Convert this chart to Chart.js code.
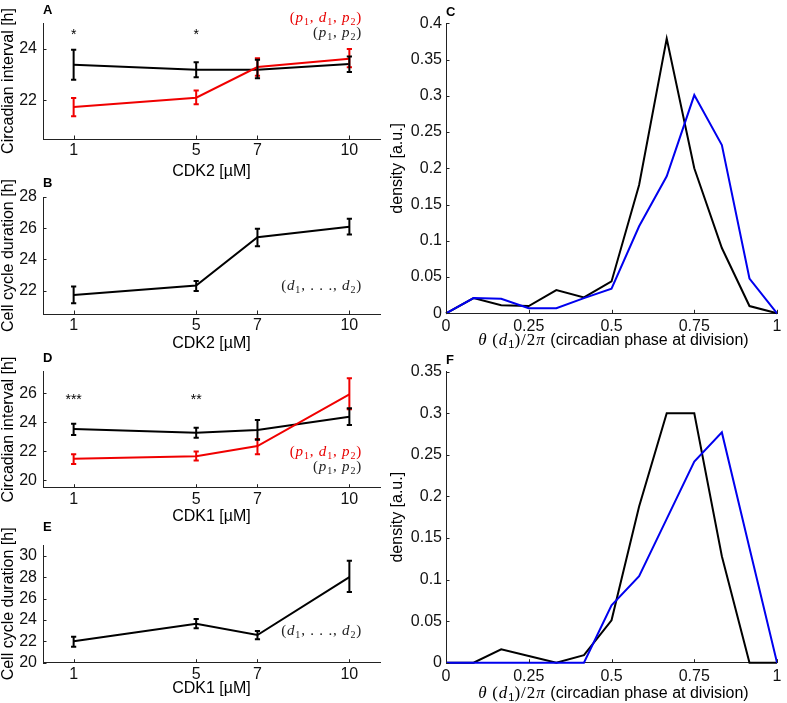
<!DOCTYPE html>
<html><head><meta charset="utf-8">
<script src="https://cdn.jsdelivr.net/npm/chart.js@4.4.0/dist/chart.umd.min.js"></script>
<style>
html,body{margin:0;padding:0;background:#fff;}
#wrap{position:relative;width:787px;height:703px;overflow:hidden;background:#fff;}
canvas{position:absolute;}
.lbl{position:absolute;font-family:"Liberation Sans",Arial,sans-serif;font-weight:bold;font-size:13px;line-height:13px;color:#000;}
.math{position:absolute;font-family:"Liberation Serif","Times New Roman",serif;font-size:15px;line-height:15px;text-align:right;white-space:nowrap;letter-spacing:0.8px;}
.math i{font-style:italic;}
.math sub{font-size:10px;vertical-align:-3px;line-height:0;}
.xt{position:absolute;font-family:"Liberation Sans",Arial,sans-serif;font-size:16px;line-height:18px;text-align:center;white-space:nowrap;color:#000;}
.xt .m{font-family:"Liberation Serif","Times New Roman",serif;font-style:italic;font-size:17px;letter-spacing:1px;}
.xt .n{font-family:"Liberation Serif","Times New Roman",serif;font-size:17px;letter-spacing:1px;}
.xt sub{font-size:11px;vertical-align:-3px;line-height:0;font-style:normal;}
</style></head><body><div id="wrap">
<canvas id="cA" width="390" height="180" style="left:0;top:0"></canvas>
<canvas id="cB" width="390" height="175" style="left:0;top:180px"></canvas>
<canvas id="cD" width="390" height="170" style="left:0;top:355px"></canvas>
<canvas id="cE" width="390" height="178" style="left:0;top:525px"></canvas>
<canvas id="cC" width="397" height="352" style="left:390px;top:0"></canvas>
<canvas id="cF" width="397" height="351" style="left:390px;top:352px"></canvas>

<div class="lbl" style="left:43px;top:3px">A</div>
<div class="lbl" style="left:43px;top:176px">B</div>
<div class="lbl" style="left:446px;top:5px">C</div>
<div class="lbl" style="left:43px;top:351px">D</div>
<div class="lbl" style="left:43px;top:520px">E</div>
<div class="lbl" style="left:446px;top:353px">F</div>

<div class="math" style="left:232px;width:130px;top:9.5px;color:#e80000">(<i>p</i><sub>1</sub>, <i>d</i><sub>1</sub>, <i>p</i><sub>2</sub>)</div>
<div class="math" style="left:232px;width:130px;top:25px;color:#222">(<i>p</i><sub>1</sub>, <i>p</i><sub>2</sub>)</div>
<div class="math" style="left:232px;width:130px;top:277.5px;color:#222">(<i>d</i><sub>1</sub>, . . ., <i>d</i><sub>2</sub>)</div>
<div class="math" style="left:232px;width:130px;top:443.5px;color:#e80000">(<i>p</i><sub>1</sub>, <i>d</i><sub>1</sub>, <i>p</i><sub>2</sub>)</div>
<div class="math" style="left:232px;width:130px;top:459px;color:#222">(<i>p</i><sub>1</sub>, <i>p</i><sub>2</sub>)</div>
<div class="math" style="left:232px;width:130px;top:622.5px;color:#222">(<i>d</i><sub>1</sub>, . . ., <i>d</i><sub>2</sub>)</div>

<div class="xt" style="left:446px;width:335px;top:331px"><span class="m">θ</span> <span class="n">(</span><span class="m">d</span><sub>1</sub><span class="n">)/2</span><span class="m">π</span> (circadian phase at division)</div>
<div class="xt" style="left:446px;width:335px;top:684px"><span class="m">θ</span> <span class="n">(</span><span class="m">d</span><sub>1</sub><span class="n">)/2</span><span class="m">π</span> (circadian phase at division)</div>
</div>
<script>
// ---------- data ----------
const doses = [1, 5, 7, 10];
const doseTicks = [1, 5, 7, 10];

// Panel A: CDK2, circadian interval
const cdk2CircP1P2   = [23.38, 23.19, 23.19, 23.41];
const cdk2CircP1P2Lo = [22.80, 22.90, 22.86, 23.10];
const cdk2CircP1P2Hi = [23.96, 23.48, 23.57, 23.70];
const cdk2CircP1D1P2   = [21.74, 22.10, 23.29, 23.61];
const cdk2CircP1D1P2Lo = [21.38, 21.85, 22.95, 23.28];
const cdk2CircP1D1P2Hi = [22.09, 22.38, 23.63, 23.99];
const cdk2Sig = ['*', '*', '', ''];
const circTicksA = [22, 24];

// Panel B: CDK2, cell cycle duration
const cdk2Cycle   = [21.72, 22.32, 25.42, 26.10];
const cdk2CycleLo = [21.19, 21.98, 24.85, 25.60];
const cdk2CycleHi = [22.26, 22.62, 25.96, 26.60];
const cycleTicksB = [22, 24, 26, 28];

// Panel D: CDK1, circadian interval
const cdk1CircP1P2   = [23.54, 23.29, 23.47, 24.39];
const cdk1CircP1P2Lo = [23.13, 22.94, 22.80, 23.82];
const cdk1CircP1P2Hi = [23.90, 23.63, 24.16, 24.97];
const cdk1CircP1D1P2   = [21.50, 21.67, 22.37, 25.93];
const cdk1CircP1D1P2Lo = [21.14, 21.38, 21.80, 24.90];
const cdk1CircP1D1P2Hi = [21.80, 22.00, 22.85, 27.03];
const cdk1Sig = ['***', '**', '', ''];
const circTicksD = [20, 22, 24, 26];

// Panel E: CDK1, cell cycle duration
const cdk1Cycle   = [22.00, 23.63, 22.59, 28.00];
const cdk1CycleLo = [21.50, 23.22, 22.19, 26.60];
const cdk1CycleHi = [22.43, 24.09, 22.96, 29.52];
const cycleTicksE = [20, 22, 24, 26, 28, 30];

// Panels C, F: phase-at-division densities
const phaseBins = [0, 0.0833, 0.1667, 0.25, 0.3333, 0.4167, 0.5, 0.5833, 0.6667, 0.75, 0.8333, 0.9167, 1];
const densCdk2Black = [0, 0.021, 0.011, 0.010, 0.032, 0.022, 0.044, 0.177, 0.379, 0.200, 0.090, 0.010, 0];
const densCdk2Blue  = [0, 0.021, 0.020, 0.007, 0.007, 0.021, 0.034, 0.120, 0.189, 0.301, 0.232, 0.048, 0];
const densCdk1Black = [0, 0, 0.016, 0.008, 0, 0.009, 0.051, 0.188, 0.300, 0.300, 0.128, 0, 0];
const densCdk1Blue  = [0, 0, 0, 0, 0, 0, 0.069, 0.104, 0.173, 0.242, 0.277, 0.138, 0];
const phaseTicks = [0, 0.25, 0.5, 0.75, 1];
const phaseTickLabels = ['0', '0.25', '0.5', '0.75', '1'];
const densTicksC = [0, 0.05, 0.1, 0.15, 0.2, 0.25, 0.3, 0.35, 0.4];
const densTickLabelsC = ['0', '0.05', '0.1', '0.15', '0.2', '0.25', '0.3', '0.35', '0.4'];
const densTicksF = [0, 0.05, 0.1, 0.15, 0.2, 0.25, 0.3, 0.35];
const densTickLabelsF = ['0', '0.05', '0.1', '0.15', '0.2', '0.25', '0.3', '0.35'];

// ---------- styling ----------
const FONT = '"Liberation Sans", Arial, Helvetica, sans-serif';
const RED = '#f00000', BLACK = '#000000', BLUE = '#0000ee';

const errorBarPlugin = {
  id: 'errbars',
  afterDatasetsDraw(chart) {
    const ctx = chart.ctx, ys = chart.scales.y;
    chart.data.datasets.forEach((ds, i) => {
      if (!ds.errLo) return;
      const meta = chart.getDatasetMeta(i);
      ctx.save();
      ctx.strokeStyle = ds.borderColor; ctx.lineWidth = 2; ctx.lineCap = 'butt';
      meta.data.forEach((pt, j) => {
        const x = pt.x, y1 = ys.getPixelForValue(ds.errLo[j]), y2 = ys.getPixelForValue(ds.errHi[j]);
        ctx.beginPath();
        ctx.moveTo(x, y1); ctx.lineTo(x, y2);
        ctx.moveTo(x - 2.6, y1); ctx.lineTo(x + 2.6, y1);
        ctx.moveTo(x - 2.6, y2); ctx.lineTo(x + 2.6, y2);
        ctx.stroke();
      });
      ctx.restore();
    });
  }
};

const inwardTicksPlugin = {
  id: 'inticks',
  afterDraw(chart) {
    const ctx = chart.ctx, a = chart.chartArea;
    ctx.save(); ctx.strokeStyle = '#222'; ctx.lineWidth = 1;
    const xs = chart.scales.x, ys = chart.scales.y;
    xs.ticks.forEach(t => {
      const px = Math.round(xs.getPixelForValue(t.value)) + 0.5;
      ctx.beginPath(); ctx.moveTo(px, a.bottom); ctx.lineTo(px, a.bottom - 3.5); ctx.stroke();
    });
    ys.ticks.forEach(t => {
      const py = Math.round(ys.getPixelForValue(t.value)) + 0.5;
      ctx.beginPath(); ctx.moveTo(a.left, py); ctx.lineTo(a.left + 3.5, py); ctx.stroke();
    });
    ctx.restore();
  }
};

const sigPlugin = {
  id: 'sig',
  afterDatasetsDraw(chart, args, opts) {
    if (!opts || !opts.labels) return;
    const ctx = chart.ctx, xs = chart.scales.x, ys = chart.scales.y;
    ctx.save();
    ctx.font = '14px ' + FONT; ctx.fillStyle = '#000'; ctx.textAlign = 'center'; ctx.textBaseline = 'alphabetic';
    opts.labels.forEach((s, j) => {
      if (!s) return;
      ctx.fillText(s, xs.getPixelForValue(opts.xs[j]), ys.getPixelForValue(opts.y) + 8);
    });
    ctx.restore();
  }
};

function yScale(o) {
  return {
    type: 'linear', position: 'left', min: o.min, max: o.max, bounds: 'data',
    grid: { display: false, drawTicks: false },
    border: { display: true, color: '#222', width: 1 },
    ticks: { padding: o.tickPad, color: '#111', autoSkip: false, font: { family: FONT, size: 16, lineHeight: 1 },
      callback: (v, i) => o.labels ? o.labels[i] : String(v) },
    afterBuildTicks: s => { s.ticks = o.ticks.map(v => ({ value: v })); },
    afterFit: s => { s.width = o.width; },
    title: { display: true, text: o.title, color: '#000', font: { family: FONT, size: 16, lineHeight: 1 }, padding: { top: o.titlePad, bottom: 0 } }
  };
}
function xScale(o) {
  return {
    type: 'linear', position: 'bottom', min: o.min, max: o.max, bounds: 'data',
    grid: { display: false, drawTicks: false },
    border: { display: true, color: '#222', width: 1 },
    ticks: { padding: o.tickPad, color: '#111', autoSkip: false, maxRotation: 0, font: { family: FONT, size: 16, lineHeight: 1 },
      callback: (v, i) => o.labels ? o.labels[i] : String(v) },
    afterBuildTicks: s => { s.ticks = o.ticks.map(v => ({ value: v })); },
    afterFit: s => { s.height = o.height; },
    title: o.title ? { display: true, text: o.title, color: '#000', font: { family: FONT, size: 16, lineHeight: 1 }, padding: { top: 0, bottom: o.titlePad } } : { display: false }
  };
}
function pts(xv, yv) { return xv.map((x, i) => ({ x: x, y: yv[i] })); }
function line(label, xv, yv, color, lo, hi) {
  const d = { label, data: pts(xv, yv), borderColor: color, backgroundColor: color, borderWidth: 2,
    pointRadius: 0, pointHoverRadius: 0, tension: 0, fill: false, clip: false };
  if (lo) { d.errLo = lo; d.errHi = hi; }
  return d;
}
function makeChart(id, datasets, scales, pad, sig) {
  return new Chart(document.getElementById(id), {
    type: 'line',
    data: { datasets },
    options: {
      responsive: false, animation: false, devicePixelRatio: 1,
      layout: { padding: pad },
      plugins: { legend: { display: false }, tooltip: { enabled: false }, sig: sig || {} },
      scales
    },
    plugins: [errorBarPlugin, inwardTicksPlugin, sigPlugin]
  });
}

// Panel A
makeChart('cA', [
  line('CDK2 (p1,d1,p2)', doses, cdk2CircP1D1P2, RED, cdk2CircP1D1P2Lo, cdk2CircP1D1P2Hi),
  line('CDK2 (p1,p2)', doses, cdk2CircP1P2, BLACK, cdk2CircP1P2Lo, cdk2CircP1P2Hi)
], {
  x: xScale({ min: 0, max: 11, ticks: doseTicks, height: 41, tickPad: 3.5, title: 'CDK2 [µM]', titlePad: 0.5 }),
  y: yScale({ min: 20.5, max: 25, ticks: circTicksA, width: 43, tickPad: 6, title: 'Circadian interval [h]', titlePad: 1 })
}, { top: 23, right: 10, left: 0, bottom: 0 }, { labels: cdk2Sig, xs: doses, y: 24.7 });

// Panel B
makeChart('cB', [
  line('CDK2 (d1,...,d2)', doses, cdk2Cycle, BLACK, cdk2CycleLo, cdk2CycleHi)
], {
  x: xScale({ min: 0, max: 11, ticks: doseTicks, height: 41, tickPad: 3.5, title: 'CDK2 [µM]', titlePad: 3 }),
  y: yScale({ min: 20.5, max: 28, ticks: cycleTicksB, width: 43, tickPad: 6, title: 'Cell cycle duration [h]', titlePad: 1 })
}, { top: 17, right: 10, left: 0, bottom: 0 });

// Panel D
makeChart('cD', [
  line('CDK1 (p1,d1,p2)', doses, cdk1CircP1D1P2, RED, cdk1CircP1D1P2Lo, cdk1CircP1D1P2Hi),
  line('CDK1 (p1,p2)', doses, cdk1CircP1P2, BLACK, cdk1CircP1P2Lo, cdk1CircP1P2Hi)
], {
  x: xScale({ min: 0, max: 11, ticks: doseTicks, height: 37.3, tickPad: 3.5, title: 'CDK1 [µM]', titlePad: 0 }),
  y: yScale({ min: 19.5, max: 27.5, ticks: circTicksD, width: 43, tickPad: 6, title: 'Circadian interval [h]', titlePad: 1 })
}, { top: 16.5, right: 10, left: 0, bottom: 0 }, { labels: cdk1Sig, xs: doses, y: 25.78 });

// Panel E
makeChart('cE', [
  line('CDK1 (d1,...,d2)', doses, cdk1Cycle, BLACK, cdk1CycleLo, cdk1CycleHi)
], {
  x: xScale({ min: 0, max: 11, ticks: doseTicks, height: 40.3, tickPad: 4, title: 'CDK1 [µM]', titlePad: 6 }),
  y: yScale({ min: 20, max: 31, ticks: cycleTicksE, width: 43, tickPad: 6, title: 'Cell cycle duration [h]', titlePad: 1 })
}, { top: 20, right: 10, left: 0, bottom: 0 });

// Panel C
makeChart('cC', [
  line('CDK2 blue', phaseBins, densCdk2Blue, BLUE),
  line('CDK2 black', phaseBins, densCdk2Black, BLACK)
], {
  x: xScale({ min: 0, max: 1, ticks: phaseTicks, labels: phaseTickLabels, height: 38.7, tickPad: 5.5 }),
  y: yScale({ min: 0, max: 0.4, ticks: densTicksC, labels: densTickLabelsC, width: 56, tickPad: 4, title: 'density [a.u.]', titlePad: 0 })
}, { top: 23.3, right: 6, left: 0, bottom: 0 });

// Panel F
makeChart('cF', [
  line('CDK1 blue', phaseBins, densCdk1Blue, BLUE),
  line('CDK1 black', phaseBins, densCdk1Black, BLACK)
], {
  x: xScale({ min: 0, max: 1, ticks: phaseTicks, labels: phaseTickLabels, height: 40.3, tickPad: 5.5 }),
  y: yScale({ min: 0, max: 0.35, ticks: densTicksF, labels: densTickLabelsF, width: 56, tickPad: 4, title: 'density [a.u.]', titlePad: 0 })
}, { top: 19.7, right: 6, left: 0, bottom: 0 });
</script>
</body></html>
